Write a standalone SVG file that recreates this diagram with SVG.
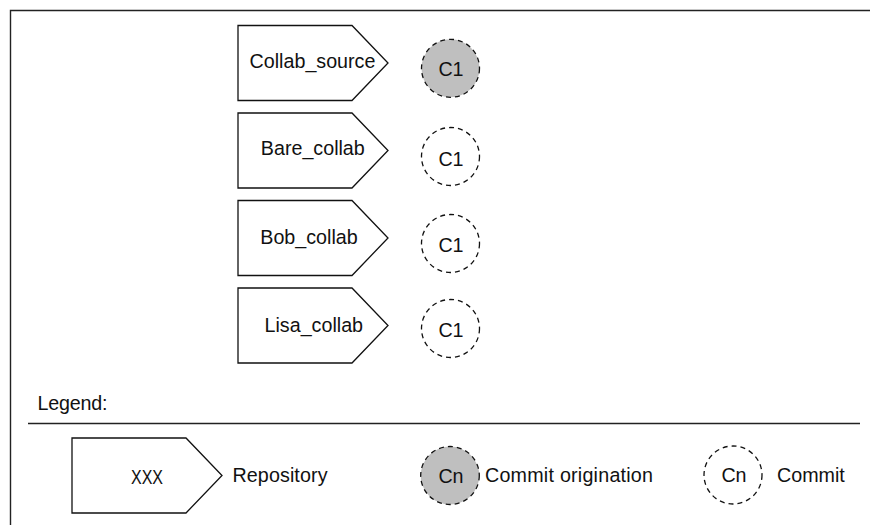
<svg xmlns="http://www.w3.org/2000/svg" width="870" height="525" viewBox="0 0 870 525">
<defs>
<style>
.frame{fill:none;stroke:#222;stroke-width:1.4}
.repo{fill:#fff;stroke:#111;stroke-width:1.3;stroke-linejoin:miter}
.orig{fill:#bfbfbf;stroke:#111;stroke-width:1.3;stroke-dasharray:5 4}
.commit{fill:#fff;stroke:#111;stroke-width:1.3;stroke-dasharray:5 4}
text{font-family:"Liberation Sans",Arial,sans-serif;font-size:19.7px;fill:#111}
.c{text-anchor:middle}
</style>
<polygon id="repoShape" points="0,0 114,0 150,37.5 114,75 0,75"/>
</defs>
<rect width="870" height="525" fill="#fff"/>
<g id="frame">
<polyline class="frame" points="10.5,525 10.5,10.5 870,10.5"/>
<line class="frame" x1="28" y1="423.5" x2="860" y2="423.5"/>
</g>
<g id="connectors"/>
<g id="repo-collab-source">
<use href="#repoShape" class="repo" x="238" y="25.5"/>
<text class="c" x="312.5" y="68.3">Collab_source</text>
</g>
<g id="commit-c1-collab-source">
<circle class="orig" cx="450.5" cy="68.3" r="29"/>
<text class="c" x="451" y="76">C1</text>
</g>
<g id="repo-bare-collab">
<use href="#repoShape" class="repo" x="238" y="113"/>
<text class="c" x="312.8" y="155">Bare_collab</text>
</g>
<g id="commit-c1-bare">
<circle class="commit" cx="450.5" cy="156.5" r="29"/>
<text class="c" x="451" y="166">C1</text>
</g>
<g id="repo-bob-collab">
<use href="#repoShape" class="repo" x="238" y="200.5"/>
<text class="c" x="309" y="244.3">Bob_collab</text>
</g>
<g id="commit-c1-bob">
<circle class="commit" cx="450.5" cy="243.5" r="29"/>
<text class="c" x="451" y="251.7">C1</text>
</g>
<g id="repo-lisa-collab">
<use href="#repoShape" class="repo" x="238" y="288"/>
<text class="c" x="313.8" y="331.7">Lisa_collab</text>
</g>
<g id="commit-c1-lisa">
<circle class="commit" cx="450.5" cy="328.5" r="29"/>
<text class="c" x="451" y="336.7">C1</text>
</g>
<g id="legend">
<text x="37.5" y="410" textLength="70">Legend:</text>
<g id="legend-repository">
<use href="#repoShape" class="repo" x="72" y="438"/>
<text class="c" x="147" y="483.5" style="font-size:20px" textLength="32" lengthAdjust="spacingAndGlyphs">XXX</text>
<text x="232.5" y="482" textLength="95">Repository</text>
</g>
<g id="legend-origination">
<ellipse class="orig" cx="450" cy="475.5" rx="29.3" ry="29"/>
<text class="c" x="451" y="482.5">Cn</text>
<text x="485" y="481.5" textLength="168">Commit origination</text>
</g>
<g id="legend-commit">
<circle class="commit" cx="733" cy="475" r="29"/>
<text class="c" x="734" y="481.5">Cn</text>
<text x="777" y="481.5">Commit</text>
</g>
</g>
</svg>
